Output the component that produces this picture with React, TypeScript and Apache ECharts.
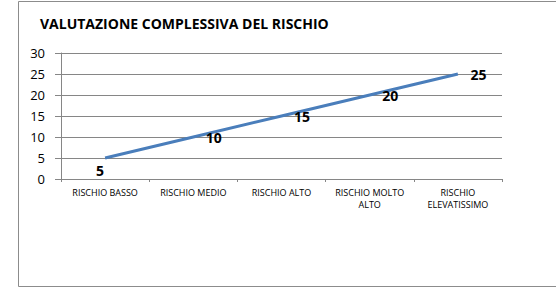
import React, { useEffect, useRef } from "react";
import * as echarts from "echarts";

const categories = [
  "RISCHIO BASSO",
  "RISCHIO MEDIO",
  "RISCHIO ALTO",
  "RISCHIO MOLTO\nALTO",
  "RISCHIO\nELEVATISSIMO",
];
const values = [5, 10, 15, 20, 25];
const titleText = "VALUTAZIONE COMPLESSIVA DEL RISCHIO";

export default function App() {
  const ref = useRef<HTMLDivElement>(null);
  useEffect(() => {
    document.body.style.margin = "0";
    const chart = echarts.init(ref.current!, null, { renderer: "svg" });
    const font = "'Open Sans', 'Liberation Sans', sans-serif";
    chart.setOption({
      animation: false,
      backgroundColor: "#ffffff",
      title: {
        text: titleText,
        left: 40,
        top: 16,
        padding: 0,
        textStyle: { fontFamily: font, fontSize: 14, fontWeight: "bold", color: "#000" },
      },
      graphic: [
        {
          type: "rect",
          shape: { x: 18.5, y: 1.5, width: 560, height: 285 },
          style: { fill: "none", stroke: "#8c8c8c", lineWidth: 1 },
          silent: true,
        },
      ],
      grid: { left: 61, right: 54, top: 53, bottom: 109 },
      xAxis: {
        type: "category",
        data: categories,
        boundaryGap: true,
        axisLine: { lineStyle: { color: "#868686", width: 1 } },
        axisTick: { show: true, length: 3, lineStyle: { color: "#868686" } },
        axisLabel: {
          interval: 0,
          margin: 7,
          fontFamily: font,
          fontSize: 9,
          lineHeight: 12,
          color: "#000",
        },
      },
      yAxis: {
        type: "value",
        min: 0,
        max: 30,
        interval: 5,
        axisLine: { show: true, lineStyle: { color: "#868686", width: 1 } },
        axisTick: { show: true, length: 6, lineStyle: { color: "#868686" } },
        splitLine: { lineStyle: { color: "#868686", width: 1 } },
        axisLabel: { margin: 16, fontFamily: font, fontSize: 13, color: "#000" },
      },
      series: [
        {
          type: "line",
          data: values.map((v, i) => ({
            value: v,
            label:
              i === 0
                ? { position: "bottom", distance: 5, offset: [-5, 0] }
                : { position: "right", distance: 12 },
          })),
          showSymbol: true,
          symbol: "circle",
          symbolSize: 1,
          lineStyle: { color: "#4a7ebb", width: 3 },
          itemStyle: { color: "rgba(0,0,0,0)" },
          label: {
            show: true,
            fontFamily: font,
            fontSize: 14,
            fontWeight: "bold",
            color: "#000",
          },
        },
      ],
    });
    return () => chart.dispose();
  }, []);
  return <div ref={ref} style={{ width: 556, height: 288 }} />;
}
